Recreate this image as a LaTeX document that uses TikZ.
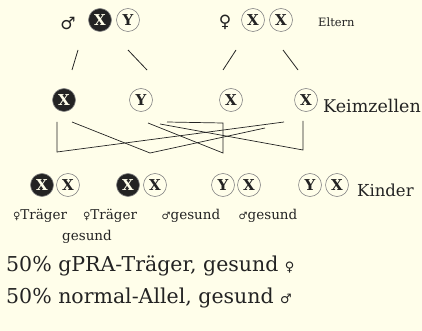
\documentclass[tikz,border=0pt]{standalone}
\usepackage{fontspec}
\setmainfont{DejaVu Serif}
\newfontfamily\symfont{DejaVu Sans}
\usepackage{tikz}
\usetikzlibrary{calc}

\definecolor{paper}{RGB}{255,254,234}
\definecolor{ink}{RGB}{35,35,35}

\begin{document}
\begin{tikzpicture}[x=1pt, y=-1pt,
  allele/.style={circle, draw=ink!55, line width=0.6pt, minimum size=23pt, inner sep=0pt,
    font=\fontsize{15}{15}\selectfont\bfseries, text=ink},
  gpra/.style={allele, fill=ink, text=paper},
  lbl/.style={font=\fontsize{13.5}{16}\selectfont, text=ink, inner sep=0pt},
  sex/.style={font=\symfont\fontsize{17}{17}\selectfont, text=ink, inner sep=0pt},
  stem/.style={ink, line width=0.8pt},
  cross/.style={ink, line width=0.7pt}]

% Paper and frame
\fill[paper] (0,0) rectangle (422,331);
\useasboundingbox (0,0) rectangle (422,331);

% Parents
\node[sex] (male) at (68,24) {♂};
\node[gpra] (fXb) at (100,20) {X};
\node[allele] (fY) at (128,20) {Y};
\node[sex] (female) at (225,22) {♀};
\node[allele] (mXa) at (253,20) {X};
\node[allele] (mXb) at (281,20) {X};
\node[lbl, font=\fontsize{11.5}{14}\selectfont, anchor=west] (eltern) at (318,22) {Eltern};

% Germ cells
\node[gpra] (gXb) at (64,100) {X};
\node[allele] (gY) at (141,100) {Y};
\node[allele] (gXa) at (231,100) {X};
\node[allele] (gXc) at (306,100) {X};
\node[lbl, font=\fontsize{17.5}{20}\selectfont, anchor=west] (keim) at (323,106) {Keimzellen};

% Stems from parents to germ cells
\draw[stem] ($(fXb)+(-22,30)$) -- ($(gXb)+(8,-30)$);
\draw[stem] ($(fY)+(0,30)$) -- ($(gY)+(6,-30)$);
\draw[stem] ($(mXa)+(-17,30)$) -- ($(gXa)+(-8,-30)$);
\draw[stem] ($(mXb)+(2,30)$) -- ($(gXc)+(-8,-30)$);

% Crossing lines to the children
\draw[cross] ($(gXb)+(-7,22)$) -- ($(gXb)+(-7,52)$) -- ($(gXc)+(-22,22)$);
\draw[cross] ($(gXb)+(8,22)$) -- ($(gY)+(9,53)$) -- ($(gXa)+(34,28)$);
\draw[cross] ($(gY)+(26,22)$) -- ($(gXa)+(-8,23)$) -- ($(gXa)+(-8,53)$) -- ($(gY)+(7,23)$);
\draw[cross] ($(gXc)+(-3,21)$) -- ($(gXc)+(-3,50)$) -- ($(gY)+(19,24)$);

% Children
\node[gpra] (k1a) at (42,185) {X};
\node[allele] (k1b) at (68,185) {X};
\node[gpra] (k2a) at (128,185) {X};
\node[allele] (k2b) at (155,185) {X};
\node[allele] (k3a) at (223,185) {Y};
\node[allele] (k3b) at (249,185) {X};
\node[allele] (k4a) at (310,185) {Y};
\node[allele] (k4b) at (337,185) {X};
\node[lbl, font=\fontsize{16.5}{19}\selectfont, anchor=west] (kinder) at (357,190) {Kinder};

% Labels under the children
\node[lbl] (t1) at (40,216) {{\symfont\fontsize{10}{10}\selectfont ♀}Träger};
\node[lbl] (t2) at (110,216) {{\symfont\fontsize{10}{10}\selectfont ♀}Träger};
\node[lbl] (t2b) at (87,237) {gesund};
\node[lbl] (t3) at (191,216) {{\symfont\fontsize{10}{10}\selectfont ♂}gesund};
\node[lbl] (t4) at (268,216) {{\symfont\fontsize{10}{10}\selectfont ♂}gesund};

% Summary
\node[lbl, font=\fontsize{20.5}{24}\selectfont, anchor=west] (sum1) at (6,266)
  {50\% gPRA-Träger, gesund {\symfont\fontsize{13}{13}\selectfont ♀}};
\node[lbl, font=\fontsize{20.5}{24}\selectfont, anchor=west] (sum2) at (6,298)
  {50\% normal-Allel, gesund {\symfont\fontsize{13}{13}\selectfont ♂}};

\end{tikzpicture}
\end{document}
